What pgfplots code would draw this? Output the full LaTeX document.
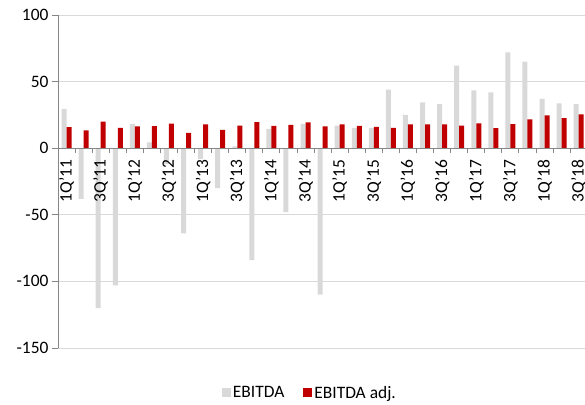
\documentclass[border=0pt]{standalone}
\usepackage{fontspec}
\setmainfont{Carlito}
\usepackage{pgfplots}
\usepackage{pgfplotstable}
\pgfplotsset{compat=1.18}

\definecolor{ebitda}{HTML}{D9D9D9}
\definecolor{ebitdaadj}{HTML}{C00000}
\definecolor{axisgray}{HTML}{868686}
\definecolor{gridgray}{HTML}{D9D9D9}

% quarter index, EBITDA, EBITDA adj. (1 = 1Q'11 ... 31 = 3Q'18)
\pgfplotstableread{
q   ebitda  adj
1    29.6   15.8
2   -38.0   13.3
3  -120.0   20.0
4  -103.0   15.3
5    18.3   16.3
6     4.3   16.5
7   -12.0   18.5
8   -64.0   11.5
9    -8.0   17.8
10  -30.0   13.8
11    1.3   17.0
12  -84.0   19.5
13   14.6   16.8
14  -48.0   17.5
15   18.3   19.3
16 -110.0   16.3
17   17.0   17.8
18   15.3   16.8
19   15.3   16.0
20   44.0   15.3
21   25.0   17.8
22   34.4   17.8
23   33.0   17.8
24   62.0   17.0
25   43.4   18.6
26   42.0   15.0
27   72.0   18.1
28   65.0   21.6
29   37.0   24.6
30   33.6   22.6
31   33.0   25.3
}\data

\newcommand{\lbl}{\fontsize{17.5}{20}\selectfont}

\begin{document}
\begin{tikzpicture}
\begin{axis}[
    scale only axis,
    width=527bp, height=333bp,
    xmin=0.5, xmax=31.37,
    ymin=-150, ymax=100,
    ybar=0pt, bar width=5bp,
    axis x line=middle, axis y line=left,
    axis line style={draw=axisgray, line width=0.9pt, -},
    axis on top,
    ymajorgrids,
    grid style={draw=gridgray, line width=0.9pt},
    ytick={-150,-100,...,100},
    xtick={1,3,...,31},
    xticklabels={1Q'11,3Q'11,1Q'12,3Q'12,1Q'13,3Q'13,1Q'14,3Q'14,1Q'15,3Q'15,1Q'16,3Q'16,1Q'17,3Q'17,1Q'18,3Q'18},
    minor xtick={1.5,2.5,...,30.5},
    tick align=center,
    major x tick style={draw=none},
    minor tick length=5bp,
    minor x tick style={draw=axisgray, line width=0.9pt, yshift=-2.5bp},
    major tick length=6bp,
    major y tick style={draw=axisgray, line width=0.9pt, xshift=-3bp},
    /pgf/number format/assume math mode=true,
    yticklabel style={font=\lbl, xshift=-3bp},
    xticklabel style={font=\lbl, rotate=90, anchor=east, xshift=-5bp, inner ysep=0pt},
    legend style={at={(0.478,-0.135)}, anchor=center, draw=none, fill=none,
        font=\lbl, legend columns=2,
        /tikz/every even column/.append style={column sep=17bp}},
    legend image code/.code={\fill[#1] (-2bp,-4.5bp) rectangle (7bp,4.5bp);},
]
\addplot[fill=ebitda, draw=none] table[x=q, y=ebitda] {\data};
\addplot[fill=ebitdaadj, draw=none] table[x=q, y=adj] {\data};
\legend{EBITDA, EBITDA adj.}
\end{axis}
\pgfresetboundingbox
\path (-58bp,-57bp) rectangle (527bp,348bp);
\end{tikzpicture}
\end{document}
